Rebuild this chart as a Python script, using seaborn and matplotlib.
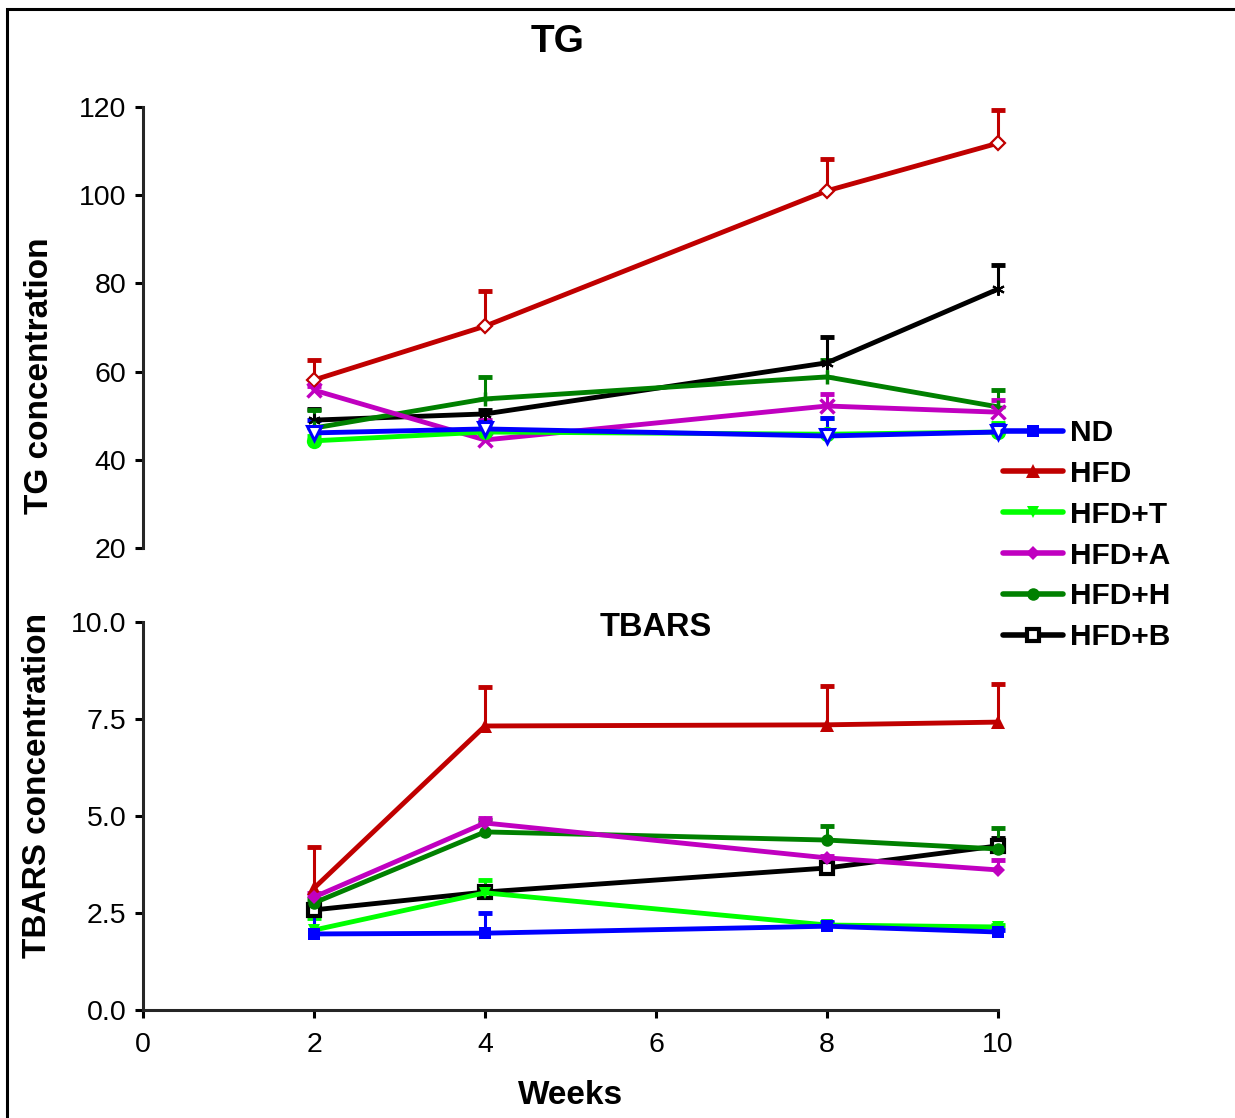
import numpy as np
import pandas as pd
import matplotlib
matplotlib.use("Agg")
import matplotlib.pyplot as plt
import seaborn as sns
from matplotlib.lines import Line2D
from matplotlib.patches import Rectangle

# ---------------- data ----------------
weeks = [2, 4, 8, 10]
groups = ["ND", "HFD", "HFD+T", "HFD+A", "HFD+H", "HFD+B"]

tg_nd = [46.1, 47.0, 45.4, 46.3]
tg_hfd = [58.1, 70.3, 101.0, 111.8]
tg_hfdt = [44.3, 46.3, 45.8, 46.3]
tg_hfda = [55.8, 44.5, 52.2, 50.8]
tg_hfdh = [47.2, 53.8, 58.8, 52.0]
tg_hfdb = [49.0, 50.4, 62.0, 78.7]

tg_nd_err = [2.9, 1.5, 4.1, 1.6]
tg_hfd_err = [4.5, 8.0, 7.2, 7.5]
tg_hfdt_err = [1.0, 1.5, 3.7, 2.0]
tg_hfda_err = [1.0, 4.5, 2.7, 2.8]
tg_hfdh_err = [4.1, 5.0, 3.8, 3.8]
tg_hfdb_err = [2.5, 1.0, 5.8, 5.5]

tb_nd = [1.96, 1.98, 2.16, 2.01]
tb_hfd = [3.14, 7.32, 7.35, 7.42]
tb_hfdt = [2.06, 3.02, 2.19, 2.14]
tb_hfda = [2.91, 4.82, 3.92, 3.61]
tb_hfdh = [2.76, 4.59, 4.38, 4.15]
tb_hfdb = [2.58, 3.04, 3.66, 4.23]

tb_nd_err = [0.50, 0.52, 0.10, 0.05]
tb_hfd_err = [1.06, 1.00, 1.00, 0.98]
tb_hfdt_err = [0.30, 0.33, 0.05, 0.05]
tb_hfda_err = [0.10, 0.13, 0.05, 0.25]
tb_hfdh_err = [0.10, 0.30, 0.35, 0.54]
tb_hfdb_err = [0.10, 0.15, 0.10, 0.20]

colors = {"ND": "#0000FF", "HFD": "#C00000", "HFD+T": "#00FF00",
          "HFD+A": "#C000C0", "HFD+H": "#008000", "HFD+B": "#000000"}

tg_vals = {"ND": tg_nd, "HFD": tg_hfd, "HFD+T": tg_hfdt, "HFD+A": tg_hfda,
           "HFD+H": tg_hfdh, "HFD+B": tg_hfdb}
tg_errs = {"ND": tg_nd_err, "HFD": tg_hfd_err, "HFD+T": tg_hfdt_err,
           "HFD+A": tg_hfda_err, "HFD+H": tg_hfdh_err, "HFD+B": tg_hfdb_err}
tb_vals = {"ND": tb_nd, "HFD": tb_hfd, "HFD+T": tb_hfdt, "HFD+A": tb_hfda,
           "HFD+H": tb_hfdh, "HFD+B": tb_hfdb}
tb_errs = {"ND": tb_nd_err, "HFD": tb_hfd_err, "HFD+T": tb_hfdt_err,
           "HFD+A": tb_hfda_err, "HFD+H": tb_hfdh_err, "HFD+B": tb_hfdb_err}

# marker styles (top panel / bottom panel)
top_markers = {
    "ND": dict(marker="v", markersize=10, markerfacecolor="white", markeredgewidth=2.2),
    "HFD": dict(marker="D", markersize=7, markerfacecolor="white", markeredgewidth=1.6),
    "HFD+T": dict(marker="o", markersize=11, markerfacecolor="#00FF00", markeredgewidth=0),
    "HFD+A": dict(marker="x", markersize=10, markeredgewidth=2.5),
    "HFD+H": dict(marker="+", markersize=10, markeredgewidth=2.5),
    "HFD+B": dict(marker=(6, 2, 0), markersize=9, markeredgewidth=1.5),
}
bot_markers = {
    "ND": dict(marker="s", markersize=8, markeredgewidth=0),
    "HFD": dict(marker="^", markersize=10, markeredgewidth=0),
    "HFD+T": dict(marker="v", markersize=8, markeredgewidth=0),
    "HFD+A": dict(marker="D", markersize=7, markeredgewidth=0),
    "HFD+H": dict(marker="o", markersize=9, markeredgewidth=0),
    "HFD+B": dict(marker="s", markersize=9, markerfacecolor="white", markeredgewidth=3),
}

draw_order = ["HFD+B", "HFD", "HFD+H", "HFD+A", "HFD+T", "ND"]

# ---------------- style ----------------
sns.set_style("ticks")
plt.rcParams["font.family"] = ["Liberation Sans", "DejaVu Sans"]
plt.rcParams["axes.linewidth"] = 2.2
plt.rcParams["text.color"] = "black"
plt.rcParams["axes.labelcolor"] = "black"
plt.rcParams["xtick.color"] = "black"
plt.rcParams["ytick.color"] = "black"

fig = plt.figure(figsize=(12.35, 11.18), dpi=100)
ax_top = fig.add_axes([143 / 1235, 1 - 548 / 1118, (998 - 143) / 1235, (548 - 107) / 1118])
ax_bot = fig.add_axes([143 / 1235, 1 - 1010 / 1118, (998 - 143) / 1235, (1010 - 622) / 1118])

LW = 3.5


def draw_panel(ax, vals, errs, markers):
    for g in draw_order:
        df = pd.DataFrame({"week": weeks, "value": vals[g]})
        c = colors[g]
        # error bars (upper only)
        up = np.array(vals[g]) + np.array(errs[g])
        ax.vlines(weeks, vals[g], up, color=c, lw=2.2, zorder=2, clip_on=False)
        ax.plot(weeks, up, linestyle="none", marker="_", markersize=10,
                markeredgewidth=3.5, color=c, zorder=2, clip_on=False)
        kw = dict(markers[g])
        kw.setdefault("markerfacecolor", c)
        sns.lineplot(data=df, x="week", y="value", ax=ax, color=c, lw=LW,
                     markeredgecolor=c, legend=False, zorder=3, clip_on=False, **kw)


draw_panel(ax_top, tg_vals, tg_errs, top_markers)
draw_panel(ax_bot, tb_vals, tb_errs, bot_markers)

# top axes formatting
ax_top.set_xlim(0, 10)
ax_top.set_ylim(20, 120)
ax_top.set_yticks([20, 40, 60, 80, 100, 120])
ax_top.set_xticks([])
for s in ["top", "right", "bottom"]:
    ax_top.spines[s].set_visible(False)
ax_top.set_xlabel("")
ax_top.set_ylabel("")
ax_top.patch.set_alpha(0)

ax_bot.set_xlim(0, 10)
ax_bot.set_ylim(0, 10)
ax_bot.set_xticks([0, 2, 4, 6, 8, 10])
ax_bot.set_yticks([0, 2.5, 5, 7.5, 10])
ax_bot.set_yticklabels(["0.0", "2.5", "5.0", "7.5", "10.0"])
for s in ["top", "right"]:
    ax_bot.spines[s].set_visible(False)
ax_bot.set_xlabel("")
ax_bot.set_ylabel("")
ax_bot.patch.set_alpha(0)

for ax in (ax_top, ax_bot):
    ax.tick_params(axis="both", direction="out", length=6, width=2.2,
                   labelsize=20.5, pad=6, colors="black")
    for s in ax.spines.values():
        s.set_linewidth(2.2)
ax_bot.tick_params(axis="x", pad=10)

# text
fig.text(558 / 1235, 1 - 42 / 1118, "TG", ha="center", va="center",
         fontsize=28, fontweight="bold", color="black")
fig.text(656 / 1235, 1 - 628 / 1118, "TBARS", ha="center", va="center",
         fontsize=23.5, fontweight="bold", color="black")
fig.text(571 / 1235, 1 - 1096 / 1118, "Weeks", ha="center", va="center",
         fontsize=24, fontweight="bold", color="black")
fig.text(40 / 1235, 1 - 376 / 1118, "TG concentration", ha="center", va="center",
         rotation=90, fontsize=24, fontweight="bold", color="black")
fig.text(38 / 1235, 1 - 785 / 1118, "TBARS concentration", ha="center", va="center",
         rotation=90, fontsize=24, fontweight="bold", color="black")

# legend
handles = []
for g in groups:
    kw = dict(bot_markers[g])
    kw.setdefault("markerfacecolor", colors[g])
    handles.append(Line2D([], [], color=colors[g], lw=4, markeredgecolor=colors[g], **kw))
fig.legend(handles, groups, loc="upper left",
           bbox_to_anchor=(1003 / 1235, 1 - 419 / 1118),
           frameon=False, borderpad=0, borderaxespad=0, handlelength=2.0,
           handletextpad=0.25, labelspacing=0.43,
           prop=dict(size=21.5, weight="bold"))

# figure border
fig.add_artist(Rectangle((7 / 1235, -0.1), 1.5, 1 - 9 / 1118 + 0.1,
                         transform=fig.transFigure, fill=False, lw=2.2,
                         edgecolor="black"))

fig.savefig("out.png", dpi=100)
